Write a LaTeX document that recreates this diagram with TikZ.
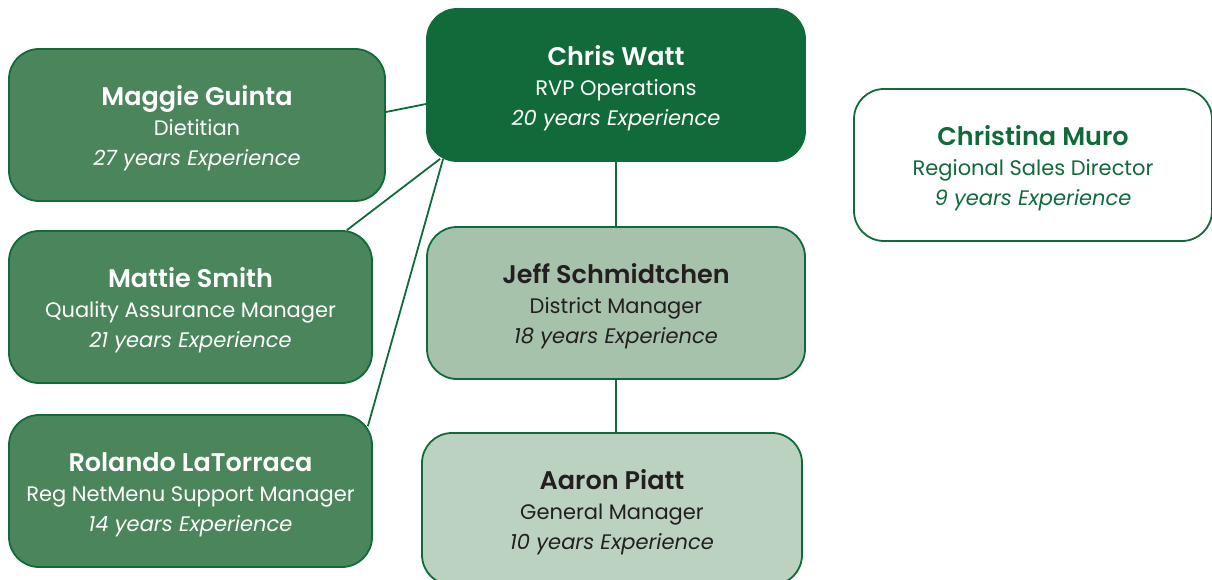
\documentclass[tikz,border=0pt]{standalone}
\usepackage{fontspec}
\setmainfont{Poppins}
\newfontfamily\namefont{Poppins SemiBold}
\usetikzlibrary{calc,backgrounds}
\definecolor{deepgreen}{HTML}{116A3A}
\definecolor{midgreen}{HTML}{4A855C}
\definecolor{sagegreen}{HTML}{A6C2AA}
\definecolor{palegreen}{HTML}{BCD2C0}
\definecolor{inkdark}{HTML}{231F20}
\tikzset{
  card/.style={draw=deepgreen, line width=1.8pt, rounded corners=30pt,
    minimum height=152pt, inner sep=0pt, align=center,
    font=\fontsize{21}{30}\selectfont},
  link/.style={draw=deepgreen, line width=1.8pt},
}
% name, role and experience; the strut on the first line sets the block a little low
\newcommand\cardtext[3]{%
  {\fontsize{25.5}{30}\selectfont\namefont\rule{0pt}{27pt}#1}\\
  #2\\
  \textit{#3}}
\begin{document}
\begin{tikzpicture}[x=1pt,y=-1pt]
  \useasboundingbox (0,0) rectangle (1212,580);
  % top level
  \node[card, fill=deepgreen, text=white, minimum width=378pt] (chris) at (616,85)
    {\cardtext{Chris Watt}{RVP Operations}{20 years Experience}};
  \node[card, fill=white, text=deepgreen, minimum width=358pt] (christina) at (1033,165)
    {\cardtext{Christina Muro}{Regional Sales Director}{9 years Experience}};
  % staff on the left
  \node[card, fill=midgreen, text=white, minimum width=376pt] (maggie) at (197,125)
    {\cardtext{Maggie Guinta}{Dietitian}{27 years Experience}};
  \node[card, fill=midgreen, text=white, minimum width=363pt] (mattie) at (190.5,307)
    {\cardtext{Mattie Smith}{Quality Assurance Manager}{21 years Experience}};
  \node[card, fill=midgreen, text=white, minimum width=363pt] (rolando) at (190.5,491)
    {\cardtext{Rolando LaTorraca}{Reg NetMenu Support Manager}{14 years Experience}};
  % line management
  \node[card, fill=sagegreen, text=inkdark, minimum width=378pt] (jeff) at (616,303)
    {\cardtext{Jeff Schmidtchen}{District Manager}{18 years Experience}};
  \node[card, fill=palegreen, text=inkdark, minimum width=380pt] (aaron) at (612,509)
    {\cardtext{Aaron Piatt}{General Manager}{10 years Experience}};
  % connectors
  \begin{scope}[on background layer]
    \draw[link] ($(maggie.east)+(0,-13)$) -- ($(chris.west)+(0,19)$);
    \draw[link] ($(mattie.north east)+(-26,0)$) -- ($(chris.south west)+(14,-3)$);
    \draw[link] ($(rolando.north east)+(-5,12)$) -- ($(chris.south west)+(17,-3)$);
    \draw[link] (chris.south) -- (jeff.north);
    \draw[link] (jeff.south) -- (jeff.south |- aaron.north);
  \end{scope}
\end{tikzpicture}
\end{document}
